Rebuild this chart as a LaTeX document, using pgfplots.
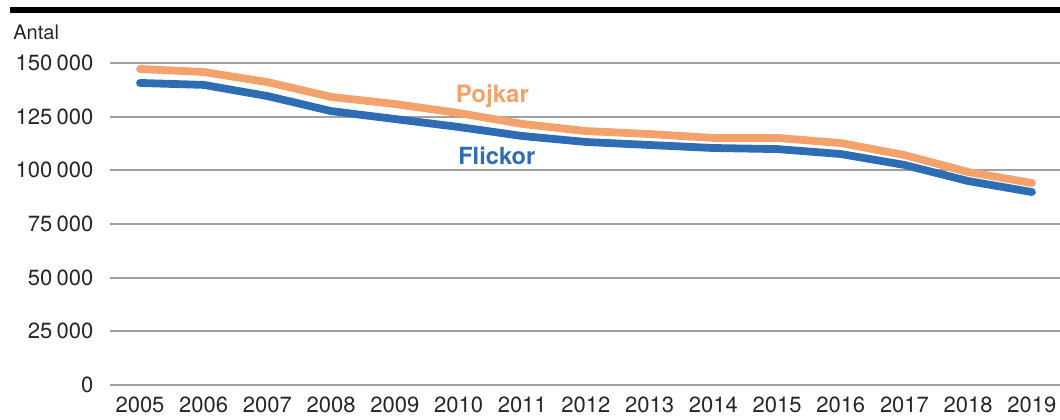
\documentclass[border=0pt]{standalone}
\usepackage{pgfplots}
\pgfplotsset{compat=1.18}
\usepackage{fontspec}
\setmainfont{TeX Gyre Heros}
\definecolor{pojk}{HTML}{F4A26B}
\definecolor{flick}{HTML}{2E6DB4}
\definecolor{gridc}{HTML}{A0A0A0}
\begin{document}
\begin{tikzpicture}
\path[use as bounding box] (-55pt,-17pt) rectangle (475pt,192.5pt);
\begin{axis}[
  at={(0,0)}, anchor=south west,
  scale only axis, width=475pt, height=161pt,
  xmin=2004.529, xmax=2019.44, ymin=0, ymax=150000,
  axis line style={draw=none},
  ymajorgrids, grid style={gridc, line width=0.85pt},
  xtick={2005,...,2019}, ytick={0,25000,50000,75000,100000,125000,150000},
  xticklabels={2005,2006,2007,2008,2009,2010,2011,2012,2013,2014,2015,2016,2017,2018,2019},
  yticklabels={0,25\hspace{0.2em}000,50\hspace{0.2em}000,75\hspace{0.2em}000,100\hspace{0.2em}000,125\hspace{0.2em}000,150\hspace{0.2em}000},
  major tick length=0pt,
  yticklabel style={font=\fontsize{11pt}{13pt}\selectfont, xshift=-4.8pt, text=black!85},
  xticklabel style={font=\fontsize{11pt}{13pt}\selectfont, yshift=-2.3pt, text=black!85},
  scaled y ticks=false,
  clip=false,
]
\addplot[pojk, line width=3.9pt, line cap=round, line join=round] coordinates {
(2005,147200) (2006,145800) (2007,141100) (2008,134200) (2009,130900)
(2010,126700) (2011,121600) (2012,118300) (2013,116900) (2014,115100)
(2015,115100) (2016,112700) (2017,107100) (2018,99200) (2019,94100)};
\addplot[flick, line width=3.9pt, line cap=round, line join=round] coordinates {
(2005,140700) (2006,139800) (2007,134600) (2008,127600) (2009,123900)
(2010,120200) (2011,116000) (2012,113200) (2013,111800) (2014,110400)
(2015,109900) (2016,107600) (2017,102500) (2018,95000) (2019,89900)};
\node[pojk, font=\bfseries\fontsize{12pt}{14pt}\selectfont] at (axis cs:2010.53,134600) {Pojkar};
\node[flick, font=\bfseries\fontsize{11.8pt}{14pt}\selectfont] at (axis cs:2010.6,106700) {Flickor};
\end{axis}
\draw[black, line width=2.6pt] (-50pt,187.5pt) -- (475pt,187.5pt);
\node[anchor=west, inner sep=0pt, font=\fontsize{10pt}{12pt}\selectfont, text=black!85] at (-48.5pt,176.5pt) {Antal};
\end{tikzpicture}
\end{document}
